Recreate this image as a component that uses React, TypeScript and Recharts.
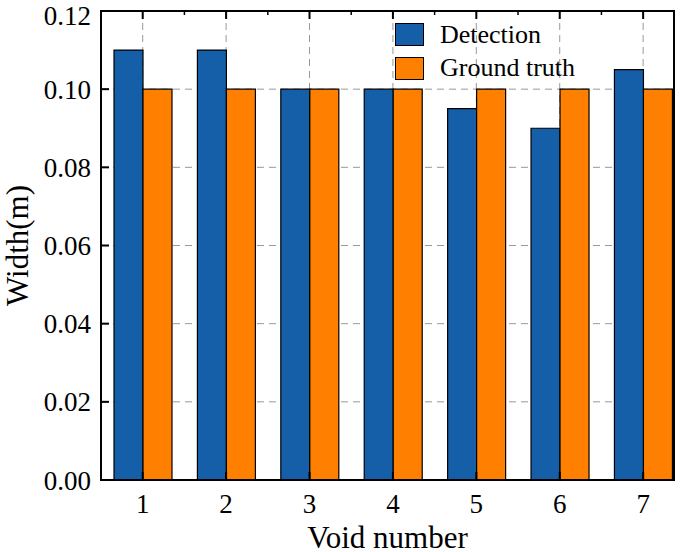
import React from 'react'
import {
  BarChart, Bar, XAxis, YAxis, CartesianGrid,
} from 'recharts'

// ── Data ──
const voids = [1, 2, 3, 4, 5, 6, 7]
const detection = [0.11, 0.11, 0.1, 0.1, 0.095, 0.09, 0.105]
const groundTruth = [0.1, 0.1, 0.1, 0.1, 0.1, 0.1, 0.1]

const yMajor = [0, 0.02, 0.04, 0.06, 0.08, 0.1, 0.12]
const yMinor = [0.01, 0.03, 0.05, 0.07, 0.09, 0.11]
const xMinor = [1.5, 2.5, 3.5, 4.5, 5.5, 6.5]

const data = voids.map((v, i) => ({
  x: v,
  detection: detection[i],
  truth: groundTruth[i],
}))

const FONT = '"Liberation Serif", "Times New Roman", serif'
const BLUE = '#155fa9'
const ORANGE = '#ff8000'

const legendItems = [
  { label: 'Detection', fill: BLUE },
  { label: 'Ground truth', fill: ORANGE },
]

function LegendBox() {
  return (
    <div
      style={{
        position: 'absolute', left: 395, top: 18,
        fontFamily: FONT, fontSize: 26, color: '#000', lineHeight: 1,
      }}
    >
      {legendItems.map((it) => (
        <div key={it.label} style={{ display: 'flex', alignItems: 'center', height: 33.5 }}>
          <span
            style={{
              display: 'inline-block', width: 27, height: 21,
              background: it.fill, border: '1px solid #000', marginRight: 16,
            }}
          />
          <span>{it.label}</span>
        </div>
      ))}
    </div>
  )
}

// plot frame (box border around the plotting area)
function Frame() {
  return (
    <div
      style={{
        position: 'absolute', left: 100, top: 10, width: 575, height: 471,
        boxSizing: 'border-box', border: '2px solid #000', pointerEvents: 'none',
      }}
    />
  )
}

const axisLine = { stroke: '#000', strokeWidth: 2 }
const tickLine = { stroke: '#000', strokeWidth: 2 }
const minorLine = { stroke: '#000', strokeWidth: 1.5 }
const noLabel = () => ''
const X_DOMAIN: [number, number] = [0.5, 7.37]
const Y_DOMAIN: [number, number] = [0, 0.12]

export default function App() {
  return (
    <div style={{ position: 'absolute', left: 0, top: 0, width: 685, height: 552, background: '#fff' }}>
      <BarChart
        width={685}
        height={552}
        data={data}
        margin={{ top: 9, right: 9, bottom: 0, left: 0 }}
        barGap={0}
        barSize={29}
      >
        <CartesianGrid stroke="#999" strokeDasharray="7 5" strokeWidth={1} />
        <XAxis
          xAxisId="top" orientation="top" dataKey="x" type="number" domain={X_DOMAIN} ticks={voids}
          height={1} axisLine={axisLine} tickLine={tickLine} tickSize={-8} tickFormatter={noLabel}
        />
        <XAxis
          xAxisId="topMinor" orientation="top" dataKey="x" type="number" domain={X_DOMAIN} ticks={xMinor}
          height={1} axisLine={false} tickLine={minorLine} tickSize={-5} tickFormatter={noLabel}
        />
        <XAxis
          dataKey="x"
          type="number"
          domain={X_DOMAIN}
          ticks={voids}
          height={72}
          axisLine={axisLine}
          tickLine={tickLine}
          tickSize={-8}
          tickMargin={22}
          tick={{ fill: '#000', fontSize: 27, fontFamily: FONT }}
          label={{ value: 'Void number', position: 'insideBottom', offset: 4, fill: '#000', fontSize: 31, fontFamily: FONT }}
        />
        <YAxis
          yAxisId="minor" domain={Y_DOMAIN} ticks={yMinor}
          width={1} axisLine={false} tickLine={minorLine} tickSize={-5} tickFormatter={noLabel}
        />
        <YAxis
          yAxisId="right" orientation="right" domain={Y_DOMAIN} ticks={yMajor}
          width={1} axisLine={axisLine} tickLine={tickLine} tickSize={-8} tickFormatter={noLabel}
        />
        <YAxis
          yAxisId="rightMinor" orientation="right" domain={Y_DOMAIN} ticks={yMinor}
          width={1} axisLine={false} tickLine={minorLine} tickSize={-5} tickFormatter={noLabel}
        />
        <YAxis
          domain={Y_DOMAIN}
          ticks={yMajor}
          width={100}
          axisLine={axisLine}
          tickLine={tickLine}
          tickSize={-8}
          tickMargin={18}
          tickFormatter={(v: number) => v.toFixed(2)}
          tick={{ fill: '#000', fontSize: 27, fontFamily: FONT }}
          label={{ value: 'Width(m)', angle: -90, position: 'insideLeft', offset: 16, fill: '#000', fontSize: 31, fontFamily: FONT, style: { textAnchor: 'middle' } }}
        />
        <Bar dataKey="detection" name="Detection" fill={BLUE} stroke="#000" strokeWidth={1.2} isAnimationActive={false} />
        <Bar dataKey="truth" name="Ground truth" fill={ORANGE} stroke="#000" strokeWidth={1.2} isAnimationActive={false} />
      </BarChart>
      <Frame />
      <LegendBox />
    </div>
  )
}
